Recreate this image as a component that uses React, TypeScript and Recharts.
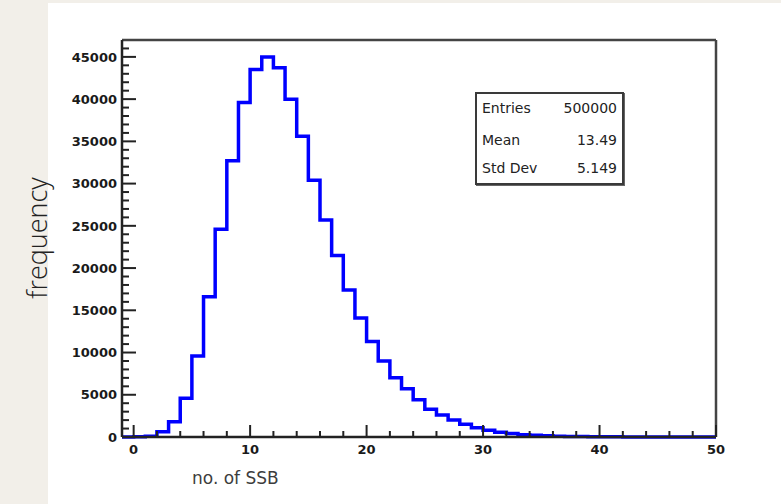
import * as React from "react";
import { LineChart, Line, XAxis, YAxis, ReferenceLine } from "recharts";

// histogram bins: width 1, first bin starts at -1
const BIN_LOW = -1;
const BIN_WIDTH = 1;
const X_MAX = 50;
const COUNTS = [
  0, 20, 100, 630, 1800, 4600, 9600, 16600, 24600, 32700,
  39600, 43500, 45000, 43700, 40000, 35600, 30400, 25700, 21500, 17400,
  14100, 11300, 9000, 7000, 5700, 4400, 3300, 2600, 2000, 1500,
  1100, 800, 560, 400, 280, 200, 140, 100, 70, 50,
  35, 25, 18, 12, 8, 6, 4, 3, 2, 1, 1,
];

const X_MAJOR = [0, 10, 20, 30, 40, 50];
const X_TICKS = [0, 2, 4, 6, 8, 10, 12, 14, 16, 18, 20, 22, 24, 26, 28, 30, 32, 34, 36, 38, 40, 42, 44, 46, 48, 50];
const Y_MAJOR = [0, 5000, 10000, 15000, 20000, 25000, 30000, 35000, 40000, 45000];
const Y_MAX = 47000;
const Y_TICKS = Array.from({ length: 47 }, (_, i) => i * 1000);

const STATS = [
  { label: "Entries", value: "500000" },
  { label: "Mean", value: "13.49" },
  { label: "Std Dev", value: "5.149" },
];

const TICK_FONT = "'DejaVu Sans', sans-serif";

const data = [
  ...COUNTS.map((c, i) => ({ x: BIN_LOW + i * BIN_WIDTH, y: c })),
  { x: X_MAX, y: COUNTS[COUNTS.length - 1] },
];

function YTick(props: any) {
  const { x, y, payload } = props;
  const axisX = x + 5;
  const major = Y_MAJOR.includes(payload.value);
  return (
    <g>
      <path d={`M${axisX},${y}h${major ? 14 : 7}`} stroke="#222" strokeWidth={2} fill="none" />
      {major && (
        <text x={x} y={y} dy="0.36em" textAnchor="end" fontFamily={TICK_FONT} fontWeight="bold" fontSize={13} fill="#1a1a1a">
          {payload.value}
        </text>
      )}
    </g>
  );
}

function XTick(props: any) {
  const { x, y, payload } = props;
  const axisY = y - 5;
  const major = X_MAJOR.includes(payload.value);
  return (
    <g>
      <path d={`M${x},${axisY}v${major ? -12 : -6}`} stroke="#222" strokeWidth={2} fill="none" />
      {major && (
        <text x={x} y={axisY + 8} dy="0.71em" textAnchor="middle" fontFamily={TICK_FONT} fontWeight="bold" fontSize={13} fill="#1a1a1a">
          {payload.value}
        </text>
      )}
    </g>
  );
}

export default function App() {
  return (
    <div style={{ position: "absolute", left: 0, top: 0, width: 781, height: 504, background: "#f2efe9", overflow: "hidden" }}>
      <div style={{ position: "absolute", left: 48, top: 3, right: 0, bottom: 0, background: "#ffffff" }} />
      <div style={{ position: "absolute", left: 0, top: 0 }}>
        <LineChart width={781} height={504} data={data} margin={{ top: 40, right: 65, bottom: 37, left: 62 }}>
          <XAxis
            dataKey="x"
            type="number"
            domain={[BIN_LOW, X_MAX]}
            ticks={X_TICKS}
            interval={0}
            height={30}
            tickSize={0}
            tickMargin={5}
            axisLine={{ stroke: "#222", strokeWidth: 2.5 }}
            tick={<XTick />}
          />
          <YAxis
            type="number"
            domain={[0, Y_MAX]}
            ticks={Y_TICKS}
            interval={0}
            width={60}
            tickSize={0}
            tickMargin={5}
            axisLine={{ stroke: "#222", strokeWidth: 2.5 }}
            tick={<YTick />}
          />
          {/* frame: top and right edges */}
          <ReferenceLine y={Y_MAX} stroke="#444" strokeWidth={2.5} ifOverflow="visible" />
          <ReferenceLine x={X_MAX} stroke="#444" strokeWidth={2.5} ifOverflow="visible" />
          <Line
            type="stepAfter"
            dataKey="y"
            stroke="#0000ff"
            strokeWidth={3.5}
            dot={false}
            isAnimationActive={false}
          />
        </LineChart>
      </div>
      <div
        style={{
          position: "absolute",
          left: 192,
          top: 468,
          fontFamily: TICK_FONT,
          fontSize: 17,
          color: "#3d3d3d",
          whiteSpace: "nowrap",
        }}
      >
        no. of SSB
      </div>
      <div
        style={{
          position: "absolute",
          left: 36,
          top: 238,
          transform: "translate(-50%, -50%) rotate(-90deg)",
          fontFamily: "'Open Sans', sans-serif",
          fontWeight: 300,
          fontSize: 27,
          color: "#222",
          whiteSpace: "nowrap",
        }}
      >
        frequency
      </div>
      <div
        style={{
          position: "absolute",
          left: 475,
          top: 92,
          width: 145,
          height: 89,
          border: "2px solid #3a3a3a",
          boxShadow: "1px 1px 0 #666",
          background: "#fff",
          fontFamily: TICK_FONT,
          fontSize: 14,
          color: "#222",
        }}
      >
        {STATS.map((s, i) => (
          <div
            key={s.label}
            style={{
              position: "absolute",
              left: 5,
              right: 5,
              top: [6, 38, 66][i],
              display: "flex",
              justifyContent: "space-between",
              lineHeight: "17px",
            }}
          >
            <span>{s.label}</span>
            <span>{s.value}</span>
          </div>
        ))}
      </div>
    </div>
  );
}
